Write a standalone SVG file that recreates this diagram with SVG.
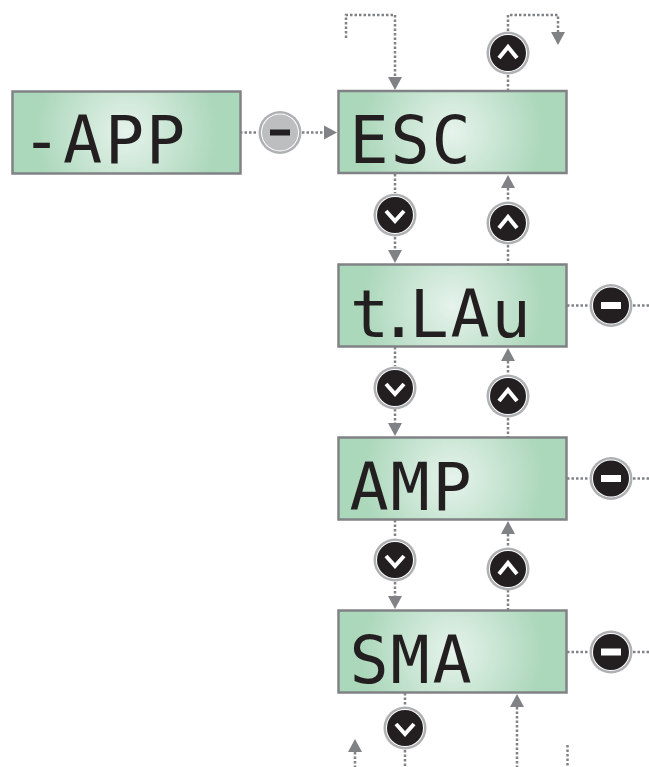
<svg xmlns="http://www.w3.org/2000/svg" xmlns:xlink="http://www.w3.org/1999/xlink" width="649" height="767" viewBox="0 0 649 767">
<style>
.box{fill:url(#lcd);stroke:#808285;stroke-width:2.5}
.lcd{font-family:"DejaVu Sans Mono","Liberation Mono",monospace;font-size:65px;fill:#231f20;text-anchor:middle}
.dot{fill:none;stroke:#808285;stroke-width:2.5;stroke-dasharray:2.5 2}
.head{fill:#808285}
</style>
<defs>
<radialGradient id="lcd" gradientUnits="userSpaceOnUse" cx="114" cy="41" r="92">
<stop offset="0" stop-color="#e6f3ec"/><stop offset="1" stop-color="#abd7ba"/>
</radialGradient>
<g id="ring"><circle r="21.5" fill="#aeb0b3"/><circle r="19" fill="#fff"/></g>
<g id="btn-down"><use href="#ring"/><circle r="18" fill="#231f20"/><polyline points="-9,-4 0,6 9,-4" fill="none" stroke="#fff" stroke-width="4"/></g>
<g id="btn-up"><use href="#ring"/><circle r="18" fill="#231f20"/><polyline points="-9,5 0,-6 9,5" fill="none" stroke="#fff" stroke-width="4"/></g>
<g id="btn-minus"><use href="#ring"/><circle r="18" fill="#231f20"/><rect x="-10" y="-3.5" width="20" height="7" fill="#fff"/></g>
<g id="btn-minus-gray"><use href="#ring"/><circle r="18" fill="#bcbec0"/><rect x="-10" y="-3" width="20" height="6" fill="#231f20"/></g>
<polygon id="ah-down" class="head" points="-7,-13 7,-13 0,0"/>
<polygon id="ah-up" class="head" points="-7,13 7,13 0,0"/>
<polygon id="ah-right" class="head" points="-13,-7 -13,7 0,0"/>
</defs>
<g id="connectors">
<path class="dot" d="M346 38V15H395V78M508 31V15H558V32M508 75V91"/>
<path class="dot" d="M240 132.500H258M302 132.500H324"/>
<path class="dot" d="M395 174V193M395 237V250M508 188V201M508 245V264"/>
<path class="dot" d="M395 347V366M395 409V423M508 361V374M508 418V437M567 305.500H589M633 305.500H649"/>
<path class="dot" d="M395 520V538M395 582V596M508 534V547M508 590V610M567 478.500H589M633 478.500H649"/>
<path class="dot" d="M405 693V706M405 750V767M517 707V767M355 752V767M567.500 745V767M567 652H589M633 652H649"/>
<use href="#ah-down" x="395" y="90"/><use href="#ah-down" x="558" y="45"/>
<use href="#ah-right" x="337" y="132.500"/>
<use href="#ah-down" x="395" y="263"/><use href="#ah-down" x="395" y="436"/><use href="#ah-down" x="395" y="609"/>
<use href="#ah-up" x="508" y="175"/><use href="#ah-up" x="508" y="348"/><use href="#ah-up" x="508" y="521"/>
<use href="#ah-up" x="517" y="694"/><use href="#ah-up" x="355" y="739"/>
</g>
<g id="node-app" transform="translate(12.500 91.500)"><rect class="box" width="228" height="82"/><text class="lcd" y="71.500" x="29 70 112 153">-APP</text></g>
<g id="node-esc" transform="translate(338.500 91)"><rect class="box" width="228" height="82"/><text class="lcd" y="72" x="30.500 71.500 112.500">ESC</text></g>
<g id="node-tlau" transform="translate(338.500 264.500)"><rect class="box" width="228" height="82"/><text class="lcd" y="72" x="31 60 90.500 131.500 172.500">t.LAu</text></g>
<g id="node-amp" transform="translate(338.500 437.500)"><rect class="box" width="228" height="82"/><text class="lcd" y="72" x="30.500 71.500 113.500">AMP</text></g>
<g id="node-sma" transform="translate(338.500 610.500)"><rect class="box" width="228" height="82"/><text class="lcd" y="72" x="30.500 71.500 113.500">SMA</text></g>
<g id="btn-app-minus"><use href="#btn-minus-gray" x="280" y="132.500"/></g>
<g id="btn-esc-up-top"><use href="#btn-up" x="508" y="53"/></g>
<g id="btn-esc-down"><use href="#btn-down" x="395" y="215"/></g>
<g id="btn-tlau-up"><use href="#btn-up" x="508" y="223"/></g>
<g id="btn-tlau-minus"><use href="#btn-minus" x="611" y="305.500"/></g>
<g id="btn-tlau-down"><use href="#btn-down" x="395" y="388"/></g>
<g id="btn-amp-up"><use href="#btn-up" x="508" y="396"/></g>
<g id="btn-amp-minus"><use href="#btn-minus" x="611" y="478.500"/></g>
<g id="btn-amp-down"><use href="#btn-down" x="395" y="560"/></g>
<g id="btn-sma-up"><use href="#btn-up" x="508" y="569"/></g>
<g id="btn-sma-minus"><use href="#btn-minus" x="611" y="652"/></g>
<g id="btn-sma-down"><use href="#btn-down" x="405" y="728"/></g>
</svg>
